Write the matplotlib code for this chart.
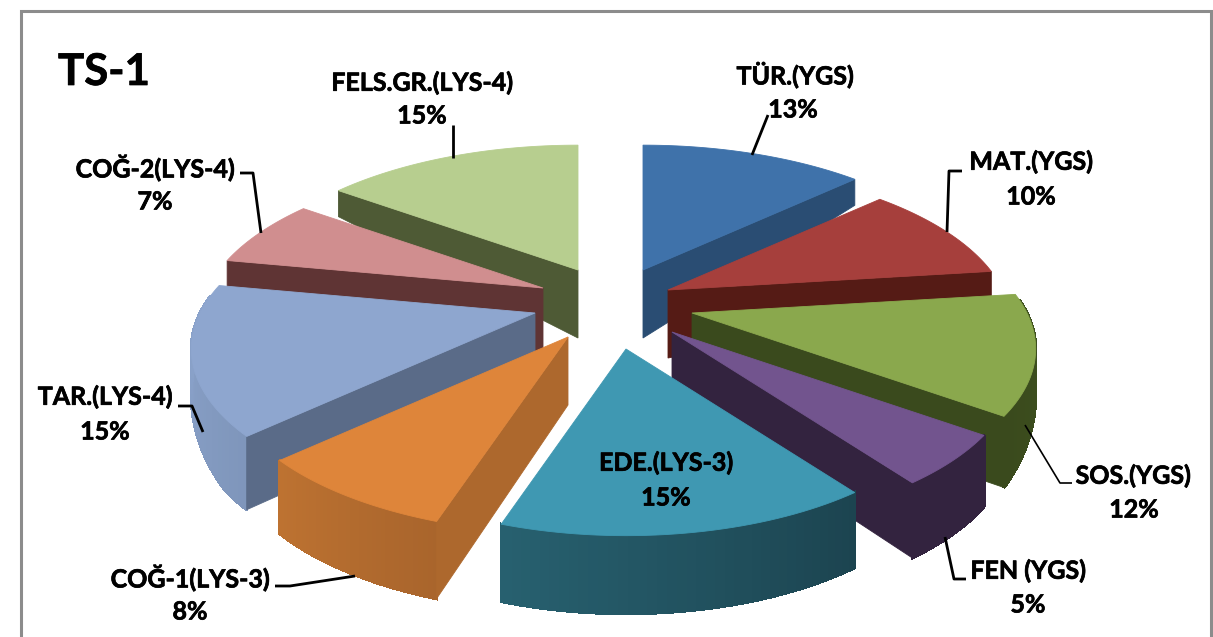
import numpy as np
import matplotlib
matplotlib.use("Agg")
import matplotlib.pyplot as plt
import matplotlib.patheffects as pe
from matplotlib.patches import Polygon
from matplotlib.colors import to_rgb

categories = ["TÜR.(YGS)", "MAT.(YGS)", "SOS.(YGS)", "FEN (YGS)", "EDE.(LYS-3)",
              "COĞ-1(LYS-3)", "TAR.(LYS-4)", "COĞ-2(LYS-4)", "FELS.GR.(LYS-4)"]
values = [13, 10, 12, 5, 15, 8, 15, 7, 15]
title = "TS-1"

# styling / layout (pixel space)
apex = [(643, 270), (668, 290), (692, 313), (672, 332), (626, 349),
        (568, 337), (535, 313), (543, 288), (578, 270)]
radius_scale = [1, 1, 1, 1, 0.96, 1, 1, 1, 1]
top_col = ["#3f72aa", "#a63f3c", "#8aa84d", "#72548e", "#3f98b2",
           "#de853a", "#8ea6cf", "#d08e8f", "#b7ce8f"]
cut_col = ["#2a4d73", "#551b15", "#3a4a1d", "#33233f", "#25606f",
           "#ad682d", "#5a6b88", "#5f3434", "#4e5a35"]
wall_a = ["#2a4d73", "#551b15", "#3f521f", "#33233f", "#1c4450",
          "#a9652c", "#7f96bb", "#d08e8f", "#4e5a35"]
wall_b = ["#2a4d73", "#551b15", "#3a4a1d", "#33233f", "#27606f",
          "#bd7231", "#8ea6cf", "#d08e8f", "#4e5a35"]
order = [0, 8, 1, 7, 6, 2, 3, 5, 4]
label_xy = [(795, 75), (1031, 162), (1133, 476), (1028, 571), (666, 463),
            (190, 578), (105, 397), (155, 168), (422, 83)]
pct_xy = [(793, 110), (1031, 197), (1134, 510), (1028, 605), (666, 498),
          (190, 612), (105, 432), (155, 202), (422, 116)]
leaders = {
    0: ([752, 768], [155, 115], 2.0),
    1: ([947, 949, 962], [232, 171, 171], 2.0),
    2: ([1025, 1060, 1072], [425, 483, 483], 1.2),
    3: ([945, 954, 966], [537, 579, 579], 2.0),
    5: ([355, 290, 275], [576, 586, 586], 2.0),
    6: ([203, 192, 178], [432, 406, 406], 2.0),
    7: ([261, 253, 240], [233, 173, 173], 2.0),
    8: ([453, 453], [158, 125], 2.0),
}
R, D, SQ = 335.0, 1500.0, 0.456
APEX_H = 68.0


def project(a, theta, frac=1.0):
    X, Y = R * frac * np.sin(theta), R * frac * np.cos(theta)
    s = D / (D + Y)
    return a[0] + X * s, a[1] - Y * SQ * s


def height(theta, frac=1.0):
    outer = np.interp(np.cos(theta), [-1, -0.6, -0.2, 0.12, 1], [78, 72, 44, 26, 26])
    return APEX_H + frac * (outer - APEX_H)


fig = plt.figure(figsize=(12.13, 6.37), dpi=100)
ax = fig.add_axes([0, 0, 1, 1])
ax.set_xlim(0, 1213)
ax.set_ylim(637, 0)
ax.axis("off")

# frame
ax.plot([21, 21, 1211, 1211], [637, 11, 11, 637], color="#8c8c8c", lw=2.2,
        solid_joinstyle="miter", zorder=1)

edges = np.radians(np.concatenate([[0], np.cumsum(values)]) * 360.0 / sum(values))
z = 2
for i in order:
    t0, t1 = edges[i], edges[i + 1]
    a = apex[i]
    f = radius_scale[i]
    ts = np.linspace(t0, t1, 40)
    rim = np.array([project(a, t, f) for t in ts])
    # outer wall (only the part turned towards the viewer)
    c0, c1 = np.array(to_rgb(wall_a[i])), np.array(to_rgb(wall_b[i]))
    for k in range(len(ts) - 1):
        if np.cos(ts[k]) > 0.1:
            continue
        h0, h1 = height(ts[k]), height(ts[k + 1])
        q = [rim[k], rim[k + 1], rim[k + 1] + [0, h1], rim[k] + [0, h0]]
        col = c0 + (c1 - c0) * k / (len(ts) - 2)
        ax.add_patch(Polygon(q, closed=True, fc=col, ec=col, lw=1.5, zorder=z,
                             antialiased=False))
    # radial cut wall that faces the viewer
    cut = t1 if t1 < np.pi else (t0 if t0 > np.pi else None)
    if cut is not None:
        p = np.array(project(a, cut, f))
        q = [a, p, p + [0, height(cut)], (a[0], a[1] + APEX_H)]
        ax.add_patch(Polygon(q, closed=True, fc=cut_col[i], ec=cut_col[i], lw=0.6, zorder=z))
    # top face
    ax.add_patch(Polygon(np.vstack([[a], rim]), closed=True, fc=top_col[i],
                         ec=top_col[i], lw=0.6, zorder=z))
    z += 1

for i, (xs, ys, w) in leaders.items():
    ax.plot(xs, ys, color="black", lw=w, solid_capstyle="butt", zorder=50)

font = dict(family="Lato", fontweight="bold", color="black", ha="center", va="center", zorder=60,
            path_effects=[pe.withStroke(linewidth=0.5, foreground="black")])
for i, name in enumerate(categories):
    ax.text(*label_xy[i], name, fontsize=18, **font)
    ax.text(*pct_xy[i], f"{values[i]}%", fontsize=18, **font)
ax.text(104, 72, title, fontsize=31.5, **font)

fig.savefig("out.png", dpi=100, facecolor="white")
